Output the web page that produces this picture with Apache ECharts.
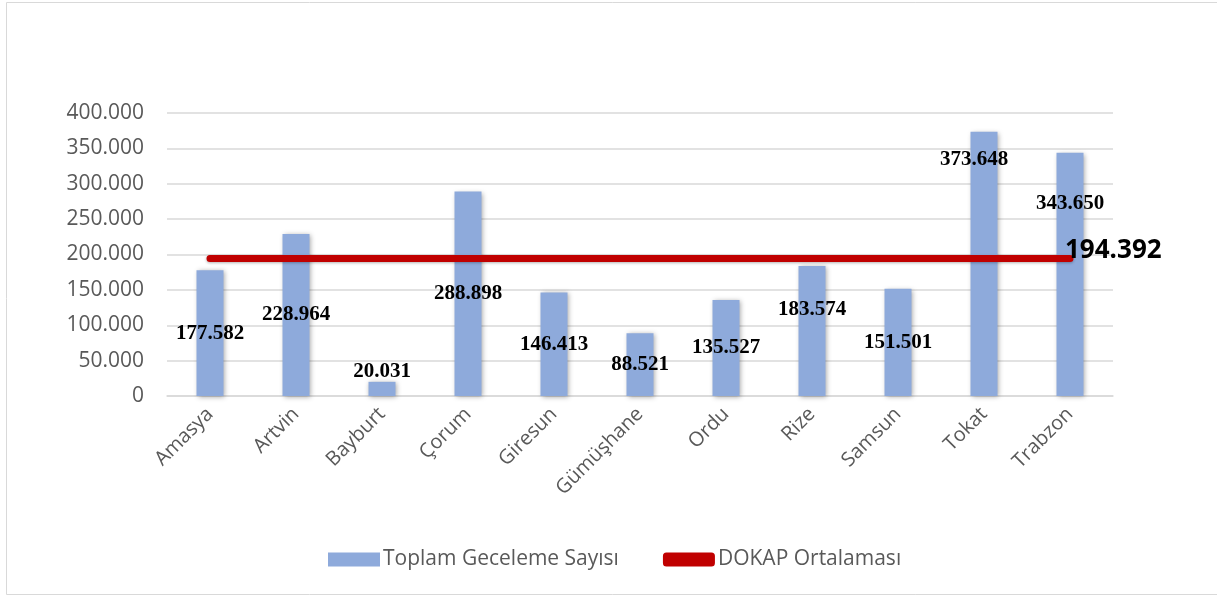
<!DOCTYPE html>
<html>
<head>
<meta charset="utf-8">
<script src="https://cdn.jsdelivr.net/npm/echarts@6/dist/echarts.min.js"></script>
<style>
html,body{margin:0;padding:0;background:#fff;}
#chart{width:1217px;height:596px;}
</style>
</head>
<body>
<div id="chart"></div>
<script>
const categories = ['Amasya','Artvin','Bayburt','Çorum','Giresun','Gümüşhane','Ordu','Rize','Samsun','Tokat','Trabzon'];
const geceleme = [177582, 228964, 20031, 288898, 146413, 88521, 135527, 183574, 151501, 373648, 343650];
const dokapOrtalama = 194392;
const yTicks = [0, 50000, 100000, 150000, 200000, 250000, 300000, 350000, 400000];

// manual label nudges (as in the source chart), indexed by category
const labelNudge = {2: [0, -17], 7: [0, -21], 9: [-10, -104], 10: [0, -71]};

function fmt(v) {
  return String(Math.round(v)).replace(/\B(?=(\d{3})+(?!\d))/g, '.');
}

const chart = echarts.init(document.getElementById('chart'));
const barData = geceleme.map((v, i) => {
  const item = {value: v};
  if (labelNudge[i]) item.label = {offset: labelNudge[i]};
  return item;
});
const lineData = categories.map(() => dokapOrtalama);

chart.setOption({
  animation: false,
  graphic: [{
    type: 'rect', silent: true,
    shape: {x: 6.5, y: 2.5, width: 1215, height: 592},
    style: {fill: 'none', stroke: '#d9d9d9', lineWidth: 1}
  }],
  grid: {left: 167, right: 104, top: 113, bottom: 200, containLabel: false},
  legend: {
    bottom: 21,
    left: 323,
    itemGap: 44,
    itemWidth: 52,
    itemHeight: 14,
    textStyle: {fontFamily: 'Open Sans', fontSize: 21, color: '#595959', padding: [0, 0, 0, -2]},
    data: [
      {name: 'Toplam Geceleme Sayısı', icon: 'rect'},
      {name: 'DOKAP Ortalaması', icon: 'roundRect', itemStyle: {color: '#c00000'}}
    ]
  },
  xAxis: {
    type: 'category',
    data: categories,
    boundaryGap: true,
    axisLine: {lineStyle: {color: '#d9d9d9', width: 1.5}},
    axisTick: {show: false},
    axisLabel: {rotate: 45, margin: 15, fontFamily: 'Open Sans', fontSize: 20, color: '#595959', interval: 0}
  },
  yAxis: {
    type: 'value',
    min: 0, max: 400000, interval: 50000,
    axisLine: {show: false},
    axisTick: {show: false},
    splitLine: {lineStyle: {color: '#d9d9d9', width: 1.5}},
    axisLabel: {margin: 23, fontFamily: 'Open Sans', fontSize: 21, color: '#595959', formatter: v => fmt(v)}
  },
  series: [
    {
      name: 'Toplam Geceleme Sayısı',
      type: 'bar',
      data: barData,
      barWidth: 27,
      itemStyle: {color: '#8eaadb', shadowBlur: 5, shadowColor: 'rgba(0,0,0,0.35)', shadowOffsetX: 1, shadowOffsetY: 1},
      label: {
        show: true, position: 'inside',
        fontFamily: 'Liberation Serif', fontWeight: 'bold', fontSize: 21, color: '#000',
        formatter: p => fmt(p.value)
      },
      z: 2
    },
    {
      name: 'DOKAP Ortalaması',
      type: 'line',
      data: lineData,
      symbol: 'none',
      lineStyle: {color: '#c00000', width: 7, cap: 'round', shadowBlur: 3, shadowColor: 'rgba(0,0,0,0.3)', shadowOffsetY: 1},
      itemStyle: {color: '#c00000'},
      endLabel: {
        show: true,
        formatter: () => fmt(dokapOrtalama),
        fontFamily: 'Open Sans', fontWeight: 'bold', fontSize: 26, color: '#000',
        offset: [-13, -8]
      },
      z: 3
    }
  ]
});
</script>
</body>
</html>
